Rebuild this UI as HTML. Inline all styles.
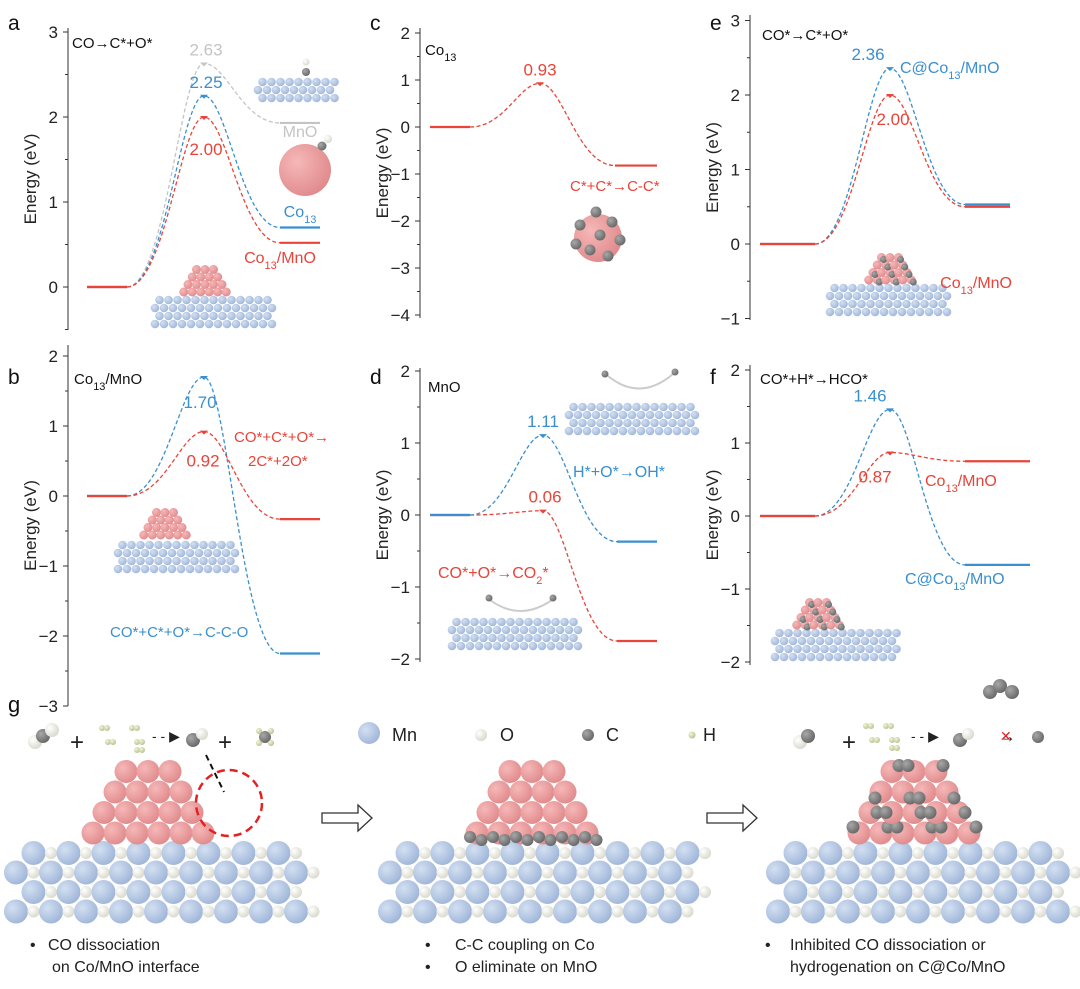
<!DOCTYPE html>
<html><head><meta charset="utf-8">
<style>
html,body{margin:0;padding:0;background:#fff;}
svg{display:block;font-family:"Liberation Sans",Arial,sans-serif;}
</style></head>
<body>
<svg id="fig" width="1080" height="989" viewBox="0 0 1080 989" xmlns="http://www.w3.org/2000/svg">
<g id="schem0"></g>
<g id="charts"></g>
<g id="schem"></g>
</svg>
<script>
// ---- chart data ----
const aLabels = ["Co13/MnO","Co13","MnO"];
const aStart = [0,0,0];
const aPeak = [2.00,2.25,2.63];
const aEnd = [0.52,0.70,1.93];
const bStart = [0,0];
const bPeak = [0.92,1.70];
const bEnd = [-0.33,-2.25];
const cStart = [0];
const cPeak = [0.93];
const cEnd = [-0.82];
const dStart = [0,0];
const dPeak = [0.06,1.11];
const dEnd = [-1.75,-0.37];
const eStart = [0,0];
const ePeak = [2.00,2.36];
const eEnd = [0.50,0.53];
const fStart = [0,0];
const fPeak = [0.87,1.46];
const fEnd = [0.75,-0.67];
const aTicks = [0,1,2,3];
const bTicks = [-3,-2,-1,0,1,2];
const cTicks = [-4,-3,-2,-1,0,1,2];
const dTicks = [-2,-1,0,1,2];
const eTicks = [-1,0,1,2,3];
const fTicks = [-2,-1,0,1,2];

const NS="http://www.w3.org/2000/svg";
const RED="#e8443a", BLUE="#3a8fcf", GRAY="#c4c4c4";
function el(tag,attrs,parent){const e=document.createElementNS(NS,tag);for(const k in attrs)e.setAttribute(k,attrs[k]);parent.appendChild(e);return e;}
function txt(parent,x,y,s,size,fill,anchor){const t=el('text',{x:x,y:y,'font-size':size,fill:fill||'#222','text-anchor':anchor||'start'},parent);t.innerHTML=s;return t;}

const charts=document.getElementById('charts');

function panel(cfg){
  const g=el('g',{},charts);
  
  
  const Y=v=>cfg.y0-v*cfg.k;
  const ax=el('line',{x1:cfg.ax,y1:cfg.top,x2:cfg.ax,y2:cfg.bot,stroke:'#333','stroke-width':1},g);
  
  
  cfg.ticks.forEach(t=>{
    el('line',{x1:cfg.ax-5,y1:Y(t),x2:cfg.ax,y2:Y(t),stroke:'#333','stroke-width':1},g);
    const m=Y(t+0.5); if(m>cfg.top) el('line',{x1:cfg.ax-3,y1:m,x2:cfg.ax,y2:m,stroke:'#333','stroke-width':1},g);
    const lab=txt(g,cfg.ax-10,Y(t)+6,t<0?'\u2212'+(-t):String(t),17,'#222','end');
    
    
  });
  const mb=Y(cfg.ticks[0]-0.5); if(mb<cfg.bot) el('line',{x1:cfg.ax-3,y1:mb,x2:cfg.ax,y2:mb,stroke:'#333','stroke-width':1},g);
  const yt=txt(g,0,0,'Energy (eV)',17,'#222','middle');
  yt.setAttribute('transform',`translate(${cfg.ax-32},${(cfg.top+cfg.bot)/2}) rotate(-90)`);
  
  
  const L=txt(g,cfg.lx,cfg.ly,cfg.letter,21,'#111');
  
  
  const [x0,x1,xp,x2,x3]=cfg.xs;
  cfg.series.forEach((s,i)=>{
    const ys=Y(s.st), yp=Y(s.pk), ye=Y(s.en);
    const h=(xp-x1)*0.5, h2=(x2-xp)*0.5;
    const p=el('path',{d:`M${x1},${ys} C${x1+h},${ys} ${xp-h*0.6},${yp} ${xp},${yp} C${xp+h2*0.6},${yp} ${x2-h2},${ye} ${x2},${ye}`,fill:'none',stroke:s.c,'stroke-width':1.3,'stroke-dasharray':'4,2.5'},g);
    
    
    const f1=el('line',{x1:x0,y1:ys,x2:x1,y2:ys,stroke:s.c,'stroke-width':2.2},g);
    
    
    const f2=el('line',{x1:x2,y1:ye,x2:x3,y2:ye,stroke:s.c,'stroke-width':2.2},g);
    
    
    const mk=el('path',{d:`M${xp-4},${yp-1} L${xp+4},${yp-1} L${xp},${yp+3} Z`,fill:s.c},g);
    
    
    if(s.lbl){const v=txt(g,s.lbl[0],s.lbl[1]?s.lbl[1]:yp-8,s.pk.toFixed(2),17,s.c,'middle');
      
      }
  });
  (cfg.notes||[]).forEach(n=>{const t=txt(g,n[0],n[1],n[2],n[4]||16,n[3],n[5]||'start');
    
    });
  return Y;
}
const sub=s=>`<tspan baseline-shift="sub" font-size="11">${s}</tspan>`;

panel({name:'panel-a',letter:'a',lx:8,ly:30,ax:68,top:28,bot:330,y0:287,k:85,ticks:aTicks,xs:[87,127,204,280,320],
 series:[
  {st:aStart[2],pk:aPeak[2],en:aEnd[2],c:GRAY,lbl:[206,null]},
  {st:aStart[1],pk:aPeak[1],en:aEnd[1],c:BLUE,lbl:[206,null]},
  {st:aStart[0],pk:aPeak[0],en:aEnd[0],c:RED,lbl:[206,Math.round(287-aPeak[0]*85)+38]}],
 notes:[[72,48,'CO\u2192C*+O*','#111',15],[300,137,'MnO',GRAY,16,'middle'],[300,217,'Co'+sub('13'),BLUE,16,'middle'],[280,263,'Co'+sub('13')+'/MnO',RED,16,'middle']]});

panel({name:'panel-b',letter:'b',lx:8,ly:384,ax:68,top:345,bot:706,y0:496,k:70,ticks:bTicks,xs:[87,127,204,280,320],
 series:[
  {st:bStart[1],pk:bPeak[1],en:bEnd[1],c:BLUE,lbl:[200,496-bPeak[1]*70+31]},
  {st:bStart[0],pk:bPeak[0],en:bEnd[0],c:RED,lbl:[203,496-bPeak[0]*70+35]}],
 notes:[[74,384,'Co'+sub('13')+'/MnO','#111',15],[234,442,'CO*+C*+O*\u2192','#e8443a',15],[248,466,'2C*+2O*','#e8443a',15],[110,637,'CO*+C*+O*\u2192C-C-O','#3a8fcf',15]]});

panel({name:'panel-c',letter:'c',lx:370,ly:30,ax:420,top:28,bot:318,y0:127,k:47,ticks:cTicks,xs:[430,470,540,615,657],
 series:[{st:cStart[0],pk:cPeak[0],en:cEnd[0],c:RED,lbl:[540,null]}],
 notes:[[425,55,'Co'+sub('13'),'#111',15],[570,191,'C*+C*\u2192C-C*','#e8443a',15]]});

panel({name:'panel-d',letter:'d',lx:370,ly:384,ax:420,top:368,bot:662,y0:515,k:72,ticks:dTicks,xs:[430,470,543,617,657],
 series:[
  {st:dStart[0],pk:dPeak[0],en:dEnd[0],c:RED,lbl:[545,null]},
  {st:dStart[1],pk:dPeak[1],en:dEnd[1],c:BLUE,lbl:[543,null]}],
 notes:[[428,392,'MnO','#111',15],[573,477,'H*+O*\u2192OH*','#3a8fcf',16],[438,578,'CO*+O*\u2192CO'+sub('2')+'*','#e8443a',16]]});

panel({name:'panel-e',letter:'e',lx:710,ly:30,ax:750,top:15,bot:320,y0:244,k:74.5,ticks:eTicks,xs:[760,815,890,965,1010],
 series:[
  {st:eStart[1],pk:ePeak[1],en:eEnd[1],c:BLUE,lbl:[868,null]},
  {st:eStart[0],pk:ePeak[0],en:eEnd[0],c:RED,lbl:[893,244-ePeak[0]*74.5+30]}],
 notes:[[762,40,'CO*\u2192C*+O*','#111',15],[900,73,'C@Co'+sub('13')+'/MnO','#3a8fcf',16],[1012,288,'Co'+sub('13')+'/MnO','#e8443a',16,'end']]});

panel({name:'panel-f',letter:'f',lx:710,ly:384,ax:750,top:365,bot:665,y0:516,k:73,ticks:fTicks,xs:[760,815,890,965,1030],
 series:[
  {st:fStart[1],pk:fPeak[1],en:fEnd[1],c:BLUE,lbl:[870,null]},
  {st:fStart[0],pk:fPeak[0],en:fEnd[0],c:RED,lbl:[875,516-fPeak[0]*73+30]}],
 notes:[[760,384,'CO*+H*\u2192HCO*','#111',15],[925,486,'Co'+sub('13')+'/MnO','#e8443a',16],[905,584,'C@Co'+sub('13')+'/MnO','#3a8fcf',16]]});

// ---- schematics ----
const S=document.getElementById('schem');
const S0=document.getElementById('schem0');
const defs=el('defs',{},S);
function grad(id,c1,c2){const r=el('radialGradient',{id:id,cx:'35%',cy:'35%',r:'70%'},defs);el('stop',{offset:'0%','stop-color':c1},r);el('stop',{offset:'100%','stop-color':c2},r);}
grad('gMn','#d3e0f2','#9fb5d8');grad('gO','#ffffff','#d8d8cc');grad('gCo','#f6b8b8','#e08a8c');grad('gC','#a8a8a8','#666');grad('gH','#f2f5d8','#b8c090');
function ball(p,x,y,r,g){return el('circle',{cx:x,cy:y,r:r,fill:`url(#${g})`},p);}
function slab(name,x0,x1,ytop,rows,dx,R,r){
  const g=el('g',{},S);
  
  
  for(let j=0;j<rows;j++){
    const y=ytop+j*19.5, off=(j%2)?0:dx/2;
    for(let x=x0+off;x<=x1;x+=dx){ball(g,x,y,R,'gMn'); if(x+dx/2<=x1+R) ball(g,x+dx/2,y,r,'gO');}
  }
  return g;
}
function pyramid(name,cx,ybot,carbon,small){
  const g=el('g',{},S);
  
  
  const counts=[6,5,4,3];
  counts.forEach((n,j)=>{const y=ybot-j*20.5;for(let i=0;i<n;i++){const x=cx+(i-(n-1)/2)*22;ball(g,x,y,11.5,'gCo');
    if(carbon) ball(g,x+((i+j)%2?7:-6),y+((i*3+j)%3-1)*6,6.5,'gC');}});
  if(small){for(let i=0;i<12;i++){ball(g,cx-62+i*11.5,ybot+4+(i%2)*3,6,'gC');}}
  return g;
}
slab('mno-slab-1',16,312,853,4,35,12,6);
slab('mno-slab-2',390,697,853,4,35,12,6);
slab('mno-slab-3',778,1075,853,4,35,12,6);
pyramid('co-cluster-1',148,833,false,false);
pyramid('co-cluster-2',532,833,false,true);
pyramid('co-cluster-3',914,833,true,false);
function miniSlab(name,x0,x1,y,rows,P){const g=el('g',{},P||S0);
  
  
  for(let j=0;j<rows;j++){for(let x=x0+(j%2?0:4.5);x<=x1;x+=9)ball(g,x,y+j*8,4.3,'gMn');}return g;}
function miniPyr(cx,yb,carbon){for(let j=0;j<4;j++){const n=6-j;for(let i=0;i<n;i++){const x=cx+(i-(n-1)/2)*8.5;ball(S0,x,yb-j*7.5,4.5,'gCo');if(carbon&&(i+j)%2)ball(S0,x+2,yb-j*7.5+2,3.5,'gC');}}}
miniSlab('inset-slab-a',155,272,300,4);miniPyr(205,292,false);
miniSlab('inset-slab-a-mno',258,335,82,3);ball(S0,306,72,4,'gC');ball(S0,306,62,3.5,'gO');
const clusterA=el('circle',{cx:305,cy:170,r:26,fill:'url(#gCo)'},S0);


ball(S0,322,146,4.5,'gC');ball(S0,328,139,4,'gO');
const clusterC=el('circle',{cx:598,cy:238,r:24,fill:'url(#gCo)'},S0);


[[580,225],[612,222],[590,250],[608,256],[576,244],[620,240],[596,212],[600,235]].forEach(p=>ball(S0,p[0],p[1],5.5,'gC'));
miniSlab('inset-slab-b',118,238,545,4);miniPyr(165,535,false);
miniSlab('inset-slab-d-top',569,695,407,4);
miniSlab('inset-slab-d-bot',452,578,622,4);
el('path',{d:'M608,376 Q640,402 673,374',fill:'none',stroke:'#ccc','stroke-width':2},S0);
el('path',{d:'M490,600 Q520,622 552,600',fill:'none',stroke:'#ccc','stroke-width':2},S0);
[[605,374],[675,372],[489,598],[553,598]].forEach(p=>ball(S0,p[0],p[1],3.5,'gC'));
miniSlab('inset-slab-e',830,950,288,4);miniPyr(890,280,true);
miniSlab('inset-slab-f',775,898,633,4);miniPyr(818,625,true);
// legend
const leg=el('g',{},S);


ball(leg,369,733,11,'gMn');txt(leg,392,741,'Mn',18);
ball(leg,481,735,6,'gO');txt(leg,500,741,'O',18);
ball(leg,588,735,6,'gC');txt(leg,606,741,'C',18);
ball(leg,692,735,3.5,'gH');txt(leg,703,741,'H',18);
const gl=txt(S,8,712,'g',22,'#111');
ball(S,35,742,7,'gO');ball(S,43,736,7,'gC');ball(S,52,730,7,'gO');
txt(S,70,750,'+',24);
[[102,728],[132,728],[108,742],[137,742],[137,750]].forEach(p=>{ball(S,p[0],p[1],3,'gH');ball(S,p[0]+5,p[1],3,'gH');});
txt(S,152,741,'- - \u25B6',14);
ball(S,193,740,7,'gC');ball(S,202,734,6,'gO');
txt(S,218,750,'+',24);
ball(S,265,737,6,'gC');[[259,731],[271,731],[259,743],[271,743]].forEach(p=>ball(S,p[0],p[1],3,'gH'));
el('circle',{cx:229,cy:803,r:33,fill:'none',stroke:'#e52020','stroke-width':2.5,'stroke-dasharray':'8,5'},S);
el('line',{x1:206,y1:755,x2:224,y2:792,stroke:'#111','stroke-width':2,'stroke-dasharray':'6,4'},S);
ball(S,800,742,7,'gO');ball(S,808,736,7,'gC');txt(S,842,750,'+',24);
[[866,726],[886,726],[872,740],[892,740],[892,748]].forEach(p=>{ball(S,p[0],p[1],3,'gH');ball(S,p[0]+5,p[1],3,'gH');});
txt(S,911,741,'- - \u25B6',14);ball(S,960,740,7,'gC');ball(S,968,734,6,'gO');
ball(S,990,692,7,'gC');ball(S,1000,686,7,'gC');ball(S,1012,692,7,'gC');
txt(S,998,742,'\u2192',18);txt(S,1000,741,'\u2715',14,'#e52020');
ball(S,1038,737,6,'gC');
function hollow(name,x,y){const p=el('path',{d:`M${x},${y-5} h36 v-8 l14,13 l-14,13 v-8 h-36 z`,fill:'#fff',stroke:'#333','stroke-width':1.3},S);
 }
hollow('process-arrow-1',322,818);hollow('process-arrow-2',707,818);
[[30,950,'\u2022'],[48,950,'CO dissociation'],[52,972,'on Co/MnO interface'],
 [425,950,'\u2022'],[455,950,'C-C coupling on Co'],[425,972,'\u2022'],[455,972,'O eliminate on MnO'],
 [765,950,'\u2022'],[790,950,'Inhibited CO dissociation or'],[790,972,'hydrogenation on C@Co/MnO']].forEach(c=>{
  const t=txt(S,c[0],c[1],c[2],16,'#222');});
</script>
</body></html>
